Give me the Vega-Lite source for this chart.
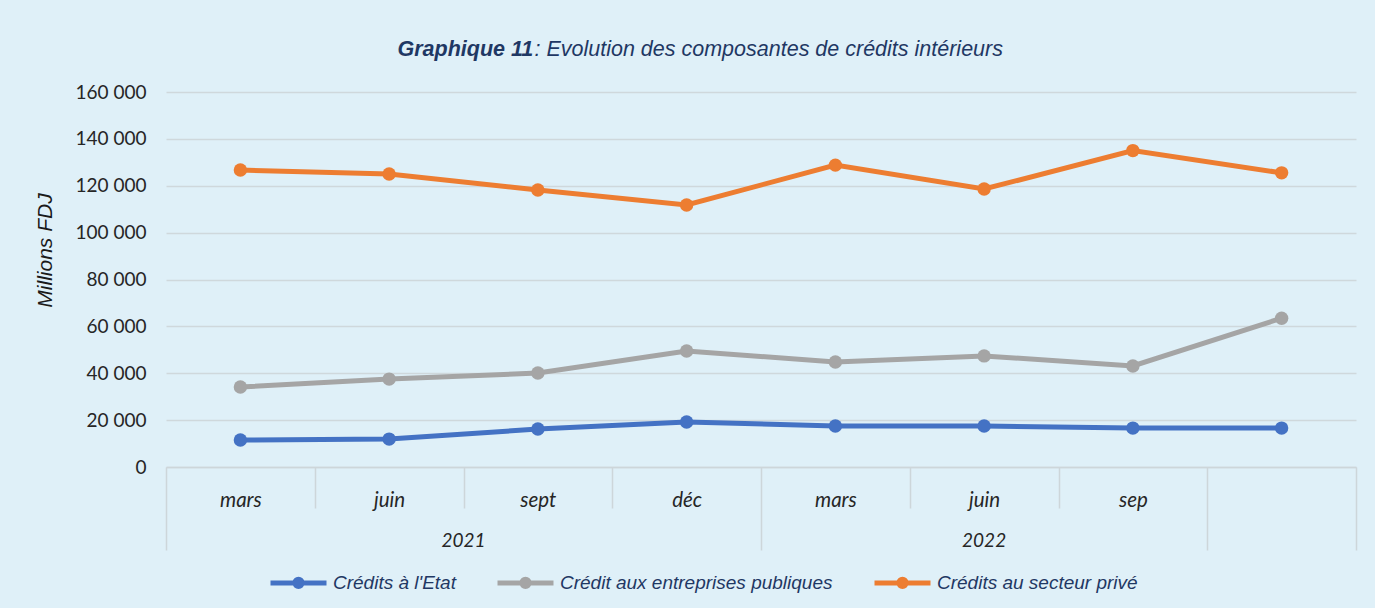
{
  "$schema": "https://vega.github.io/schema/vega-lite/v6.json",
  "width": 1190,
  "height": 375,
  "autosize": "none",
  "padding": {"left": 166, "top": 92, "right": 19, "bottom": 141},
  "background": "#dff0f8",
  "config": {
    "view": {"stroke": null},
    "font": "Liberation Sans",
    "locale": {"number": {"decimal": ",", "thousands": " ", "grouping": [3], "currency": ["", ""]}}
  },
  "datasets": {
    "credits": [
      {"periode": "mars 2021", "serie": "Crédits à l'Etat", "valeur": 11500},
      {"periode": "juin 2021", "serie": "Crédits à l'Etat", "valeur": 11900},
      {"periode": "sept 2021", "serie": "Crédits à l'Etat", "valeur": 16200},
      {"periode": "déc 2021", "serie": "Crédits à l'Etat", "valeur": 19200},
      {"periode": "mars 2022", "serie": "Crédits à l'Etat", "valeur": 17500},
      {"periode": "juin 2022", "serie": "Crédits à l'Etat", "valeur": 17500},
      {"periode": "sep 2022", "serie": "Crédits à l'Etat", "valeur": 16600},
      {"periode": "déc 2022", "serie": "Crédits à l'Etat", "valeur": 16600},
      {"periode": "mars 2021", "serie": "Crédit aux entreprises publiques", "valeur": 34100},
      {"periode": "juin 2021", "serie": "Crédit aux entreprises publiques", "valeur": 37500},
      {"periode": "sept 2021", "serie": "Crédit aux entreprises publiques", "valeur": 40100},
      {"periode": "déc 2021", "serie": "Crédit aux entreprises publiques", "valeur": 49500},
      {"periode": "mars 2022", "serie": "Crédit aux entreprises publiques", "valeur": 44800},
      {"periode": "juin 2022", "serie": "Crédit aux entreprises publiques", "valeur": 47400},
      {"periode": "sep 2022", "serie": "Crédit aux entreprises publiques", "valeur": 43100},
      {"periode": "déc 2022", "serie": "Crédit aux entreprises publiques", "valeur": 63500},
      {"periode": "mars 2021", "serie": "Crédits au secteur privé", "valeur": 126700},
      {"periode": "juin 2021", "serie": "Crédits au secteur privé", "valeur": 125000},
      {"periode": "sept 2021", "serie": "Crédits au secteur privé", "valeur": 118200},
      {"periode": "déc 2021", "serie": "Crédits au secteur privé", "valeur": 111800},
      {"periode": "mars 2022", "serie": "Crédits au secteur privé", "valeur": 128800},
      {"periode": "juin 2022", "serie": "Crédits au secteur privé", "valeur": 118600},
      {"periode": "sep 2022", "serie": "Crédits au secteur privé", "valeur": 135000},
      {"periode": "déc 2022", "serie": "Crédits au secteur privé", "valeur": 125500}
    ]
  },
  "data": {"name": "credits"},
  "layer": [
    {
      "mark": {"type": "line", "strokeWidth": 5},
      "encoding": {
        "x": {
          "field": "periode", "type": "ordinal", "sort": null,
          "scale": {"type": "band", "paddingInner": 0, "paddingOuter": 0},
          "axis": {
            "orient": "bottom", "grid": false,
            "title": "Graphique 11",
            "titleFont": "Liberation Sans", "titleFontSize": 21.5, "titleFontStyle": "italic", "titleFontWeight": "bold",
            "titleColor": "#1f3864", "titleAlign": "left", "titleBaseline": "alphabetic", "titleAnchor": "start",
            "titleX": 231, "titleY": -412,
            "domain": true, "domainColor": "#cdd6da", "domainWidth": 1.5,
            "ticks": true, "tickBand": "extent", "tickColor": "#cdd6da", "tickWidth": 1.5,
            "tickSize": {"condition": {"test": "indexof(['déc 2021','sep 2022','déc 2022'], datum.value) >= 0 || datum.extra", "value": 83}, "value": 41},
            "labelExpr": "isValid(datum.value) && datum.value != 'déc 2022' ? split(datum.value, ' ')[0] : ''",
            "labelAngle": 0, "labelBaseline": "middle",
            "labelPadding": {"condition": {"test": "indexof(['déc 2021','sep 2022','déc 2022'], datum.value) >= 0", "value": -50}, "value": -8},
            "labelFont": "Lato", "labelFontStyle": "italic", "labelFontSize": 20.5, "labelColor": "#262626"
          }
        },
        "y": {
          "field": "valeur", "type": "quantitative",
          "scale": {"domain": [0, 160000], "nice": false},
          "axis": {
            "title": "Millions FDJ",
            "values": [0, 20000, 40000, 60000, 80000, 100000, 120000, 140000, 160000],
            "format": ",d", "domain": false, "ticks": false, "grid": true,
            "gridColor": "#cfd8dc", "gridWidth": 1.5,
            "labelFont": "Lato", "labelFontSize": 19, "labelColor": "#262626", "labelPadding": 20,
            "titleFont": "Liberation Sans", "titleFontStyle": "italic", "titleFontWeight": "normal",
            "titleFontSize": 21, "titleColor": "#1a1a1a",
            "titleX": -121, "titleY": 158, "titleAngle": -90, "titleBaseline": "middle", "titleAlign": "center"
          }
        },
        "color": {
          "field": "serie", "type": "nominal",
          "scale": {
            "domain": ["Crédits à l'Etat", "Crédit aux entreprises publiques", "Crédits au secteur privé"],
            "range": ["#4472c4", "#a5a5a5", "#ed7d31"]
          },
          "legend": {
            "orient": "none", "legendX": 102, "legendY": 460, "direction": "horizontal", "title": null,
            "padding": 0,
            "symbolType": "M-1,0H1M0.13,0A0.13,0.13,0,1,1,-0.13,0A0.13,0.13,0,1,1,0.13,0Z",
            "symbolSize": 3136, "symbolStrokeWidth": 5,
            "labelFont": "Liberation Sans", "labelFontStyle": "italic", "labelFontSize": 19, "labelColor": "#1f3864",
            "labelOffset": 4, "labelLimit": 0, "columnPadding": 31,
            "encode": {
              "symbols": {
                "update": {
                  "fill": {"scale": "color", "field": "value"},
                  "stroke": {"scale": "color", "field": "value"},
                  "opacity": {"value": 1}
                }
              }
            }
          }
        }
      }
    },
    {
      "mark": {"type": "point", "filled": true, "size": 180, "opacity": 1},
      "encoding": {
        "x": {
          "field": "periode", "type": "ordinal", "sort": null,
          "scale": {"type": "band", "paddingInner": 0, "paddingOuter": 0},
          "axis": {
            "orient": "bottom", "grid": false, "domain": false, "ticks": false,
            "title": ": Evolution des composantes de crédits intérieurs",
            "titleFont": "Liberation Sans", "titleFontSize": 21.5, "titleFontStyle": "italic", "titleFontWeight": "normal",
            "titleColor": "#1f3864", "titleAlign": "left", "titleBaseline": "alphabetic", "titleAnchor": "start",
            "titleX": 368, "titleY": -412,
            "values": ["sept 2021", "juin 2022"],
            "labelExpr": "datum.value == 'sept 2021' ? '2021' : '2022'",
            "labelOffset": {"condition": {"test": "datum.value == 'sept 2021'", "value": -74.4}, "value": 0},
            "labelAngle": 0, "labelBaseline": "middle", "labelPadding": 73,
            "labelFont": "Lato", "labelFontStyle": "italic", "labelFontSize": 19, "labelColor": "#262626"
          }
        },
        "y": {"field": "valeur", "type": "quantitative"},
        "color": {"field": "serie", "type": "nominal"}
      }
    }
  ],
  "resolve": {"axis": {"x": "independent"}}
}
